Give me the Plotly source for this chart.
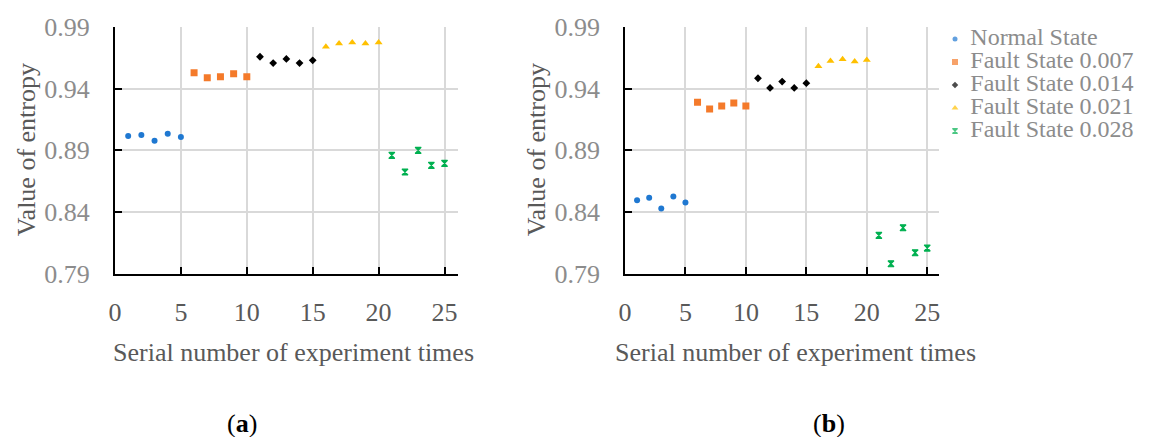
import plotly.graph_objects as go

# Entropy values for each bearing state, two experiments (a) and (b)
series_names = ["Normal State", "Fault State 0.007", "Fault State 0.014",
                "Fault State 0.021", "Fault State 0.028"]
serial_numbers = [
    [1, 2, 3, 4, 5],
    [6, 7, 8, 9, 10],
    [11, 12, 13, 14, 15],
    [16, 17, 18, 19, 20],
    [21, 22, 23, 24, 25],
]
entropy_a = [
    [0.9016, 0.9024, 0.8978, 0.9035, 0.9008],
    [0.9528, 0.9488, 0.9496, 0.9520, 0.9496],
    [0.9657, 0.9606, 0.9639, 0.9606, 0.9628],
    [0.9738, 0.9765, 0.9773, 0.9765, 0.9773],
    [0.8860, 0.8725, 0.8900, 0.8779, 0.8795],
]
entropy_b = [
    [0.8497, 0.8516, 0.8430, 0.8527, 0.8478],
    [0.9290, 0.9234, 0.9258, 0.9282, 0.9258],
    [0.9483, 0.9405, 0.9456, 0.9405, 0.9443],
    [0.9580, 0.9623, 0.9637, 0.9618, 0.9631],
    [0.8212, 0.7983, 0.8274, 0.8072, 0.8110],
]
x_ticks = [0, 5, 10, 15, 20, 25]
y_ticks = [0.79, 0.84, 0.89, 0.94, 0.99]
panel_labels = ["(<b>a</b>)", "(<b>b</b>)"]

colors = ["#1f78d1", "#f47a2a", "#000000", "#ffc000", "#00b050"]
symbols = ["circle", "square", "diamond", "triangle-up", "hourglass"]
sizes = [6, 7, 6, 7, 6]
outline = [0, 0, 0, 0, 1.2]

W, H = 1149, 437
FONT = "Liberation Serif"
TICK_GREY = "#8c8c8c"
TITLE_GREY = "#595959"

fig = go.Figure()

for panel, data in enumerate([entropy_a, entropy_b]):
    xa = "x" if panel == 0 else "x2"
    ya = "y" if panel == 0 else "y2"
    for i in range(5):
        fig.add_trace(go.Scatter(
            x=serial_numbers[i], y=data[i], mode="markers",
            name=series_names[i], showlegend=False,
            marker=dict(color=colors[i], symbol=symbols[i], size=sizes[i],
                        line=dict(width=outline[i], color=colors[i])),
            xaxis=xa, yaxis=ya,
        ))

# Legend column drawn on its own hidden axes
rows = list(range(5))
fig.add_trace(go.Scatter(
    x=[0.0718] * 5, y=rows, mode="markers", showlegend=False,
    marker=dict(color=colors, symbol=symbols, size=[5, 6, 5, 6, 5],
                line=dict(width=outline, color=colors)),
    xaxis="x3", yaxis="y3", hoverinfo="skip",
))
fig.add_trace(go.Scatter(
    x=[0.145] * 5, y=rows, mode="text", text=series_names,
    textposition="middle right", showlegend=False,
    textfont=dict(family=FONT, size=24, color=TICK_GREY),
    xaxis="x3", yaxis="y3", hoverinfo="skip",
))


def px_x(p):
    return p / W


def px_y(p):
    return 1 - p / H


y_dom = [px_y(274), px_y(26.7)]
panels = [
    dict(x0=115, x1=457.7, title_x=26, label_x=242, xt_shift=7),
    dict(x0=625, x1=939.3, title_x=536, label_x=829, xt_shift=13),
]

common_x = dict(range=[0, 26], tickvals=x_ticks, showgrid=True, gridcolor="#d9d9d9",
                gridwidth=1.5, zeroline=False, showline=True, linecolor="black",
                ticks="inside", ticklen=7, tickcolor="black", automargin=False,
                tickfont=dict(family=FONT, size=26, color=TITLE_GREY),
                ticklabelstandoff=14)
common_y = dict(range=[0.79, 0.99], tickvals=y_ticks, tickformat=".2f", showgrid=True,
                gridcolor="#d9d9d9", gridwidth=1.5, zeroline=False, showline=True,
                linecolor="black", ticks="inside", ticklen=7, tickcolor="black",
                automargin=False,
                tickfont=dict(family=FONT, size=26, color=TICK_GREY),
                ticklabelstandoff=18)

layout = dict(
    template="none",
    width=W, height=H, margin=dict(l=0, r=0, t=0, b=0, pad=0, autoexpand=False),
    paper_bgcolor="white", plot_bgcolor="white",
    xaxis=dict(common_x, domain=[px_x(115), px_x(457.7)], anchor="y",
               linewidth=2.25, tickwidth=2.25),
    yaxis=dict(common_y, domain=y_dom, anchor="x", linewidth=2.25, tickwidth=2.25),
    xaxis2=dict(common_x, domain=[px_x(625), px_x(939.3)], anchor="y2",
                linewidth=1.5, tickwidth=1.5),
    yaxis2=dict(common_y, domain=y_dom, anchor="x2", linewidth=1.5, tickwidth=1.5),
    xaxis3=dict(domain=[px_x(940), 1.0], range=[0, 1], visible=False, fixedrange=True,
                automargin=False),
    yaxis3=dict(domain=[0, 1], range=[(H - 39) / 23, -39 / 23], visible=False,
                fixedrange=True, anchor="x3", automargin=False),
    showlegend=False,
)

annotations = []
for p in panels:
    annotations.append(dict(
        text="Value of entropy", xref="paper", yref="paper",
        x=px_x(p["title_x"]), y=px_y(150.3), textangle=-90, showarrow=False,
        xanchor="center", yanchor="middle",
        font=dict(family=FONT, size=26, color=TITLE_GREY)))
    annotations.append(dict(
        text="Serial number of experiment times", xref="paper", yref="paper",
        x=px_x((p["x0"] + p["x1"]) / 2 + p["xt_shift"]), y=px_y(352), showarrow=False,
        xanchor="center", yanchor="middle",
        font=dict(family=FONT, size=26, color=TITLE_GREY)))
for label, p in zip(panel_labels, panels):
    annotations.append(dict(
        text=label, xref="paper", yref="paper", x=px_x(p["label_x"]), y=px_y(423),
        showarrow=False, xanchor="center", yanchor="middle",
        font=dict(family=FONT, size=26, color="black")))

layout["annotations"] = annotations
fig.update_layout(**layout)

fig.write_html("out.html")
